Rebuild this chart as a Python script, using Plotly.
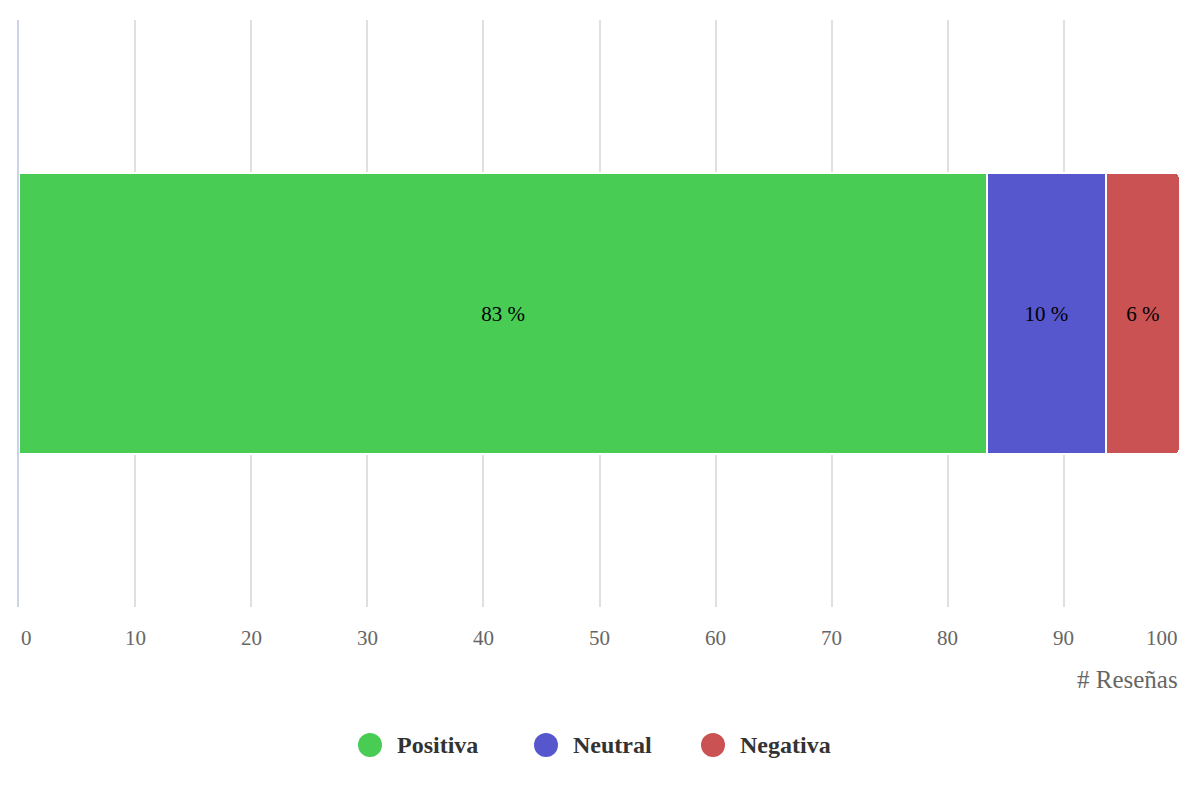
import plotly.graph_objects as go

# sentiment shares (% of reviews)
categories = ["Positiva", "Neutral", "Negativa"]
values = [83.4, 10.2, 6.4]
bar_labels = ["83 %", "10 %", "6 %"]
colors = ["#48cc54", "#5656cd", "#cb5252"]
row_name = ["Reseñas"]
tick_vals = [0, 10, 20, 30, 40, 50, 60, 70, 80, 90, 100]

SERIF = "Liberation Serif"

fig = go.Figure()

for name, val, lab, col in zip(categories, values, bar_labels, colors):
    fig.add_trace(go.Bar(
        y=row_name, x=[val], orientation="h", name=name,
        marker=dict(color=col, line=dict(color="white", width=2)),
        text=[lab], textposition="inside", insidetextanchor="middle",
        textfont=dict(family=SERIF, size=21, color="black"),
        showlegend=False, hoverinfo="skip",
    ))

# tick labels placed like the original (edge labels pulled inward)
for v in tick_vals:
    anchor = "left" if v == 0 else ("right" if v == 100 else "center")
    fig.add_annotation(
        x=v, y=0, xref="x", yref="paper", yanchor="top", xanchor=anchor,
        yshift=-17, text=str(v), showarrow=False,
        font=dict(family=SERIF, size=21, color="#666666"),
    )

fig.add_annotation(
    x=1, y=0, xref="paper", yref="paper", xanchor="right", yanchor="top",
    yshift=-57, text="# Reseñas", showarrow=False,
    font=dict(family=SERIF, size=25, color="#666666"),
)

# custom legend: big circles + bold labels, centred under the chart
legend_x = [(370 - 19) / 1161, (546 - 19) / 1161, (713 - 19) / 1161]
legend_y = (607 - 745) / 587
for name, col, lx in zip(categories, colors, legend_x):
    fig.add_shape(
        type="circle", xref="paper", yref="paper",
        xsizemode="pixel", ysizemode="pixel",
        xanchor=lx, yanchor=legend_y,
        x0=-12, x1=12, y0=-12, y1=12,
        fillcolor=col, line=dict(width=0),
    )
    fig.add_annotation(
        x=lx, y=legend_y, xref="paper", yref="paper",
        xanchor="left", yanchor="middle", xshift=25,
        text=f"<b>{name}</b>", showarrow=False,
        font=dict(family=SERIF, size=24, color="#333333"),
    )

fig.update_layout(
    width=1200, height=800,
    barmode="stack", bargap=0.52, barcornerradius=6,
    plot_bgcolor="white", paper_bgcolor="white",
    margin=dict(l=11, r=28, t=12, b=201),
    font=dict(family=SERIF),
    showlegend=False,
    xaxis=dict(range=[0, 100], tickvals=tick_vals, showticklabels=False,
               showgrid=True, gridcolor="#e0e0e0", gridwidth=2,
               zeroline=False, showline=False, fixedrange=True),
    yaxis=dict(showticklabels=False, showgrid=False, zeroline=False,
               showline=True, linecolor="#ccd3e6", linewidth=2,
               fixedrange=True),
)

fig.write_html("out.html")
